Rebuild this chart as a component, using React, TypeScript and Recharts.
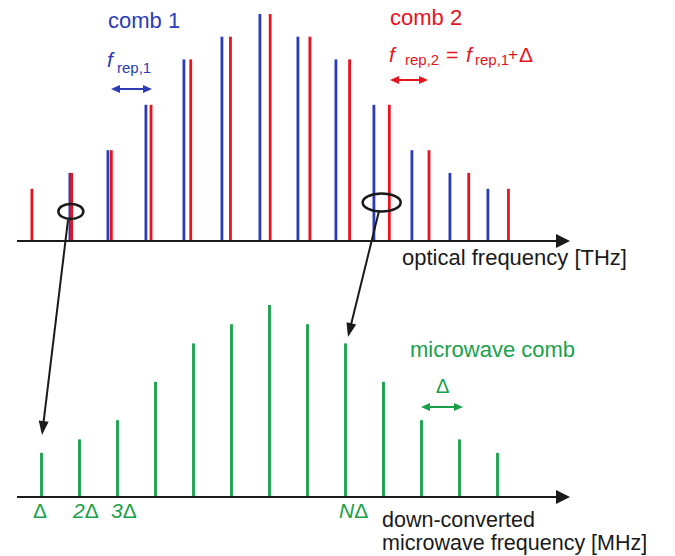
import { BarChart, Bar, Cell, XAxis, YAxis, ReferenceLine, ReferenceDot } from "recharts";

const BLUE = "#2b3cb6";
const RED = "#e6141f";
const GREEN = "#18a14a";
const INK = "#1a1a1a";
const FONT = '"Liberation Sans", Arial, sans-serif';

// comb 1: optical lines, frequency in units of f_rep,1
const comb1Freq = [1, 2, 3, 4, 5, 6, 7, 8, 9, 10, 11, 12];
const comb1Amp = [0.3, 0.4, 0.6, 0.8, 0.9, 1.0, 0.9, 0.8, 0.6, 0.4, 0.3, 0.23];

// comb 2: f_rep,2 = f_rep,1 + Δ
const comb2Freq = [0, 1.045, 2.09, 3.135, 4.18, 5.225, 6.27, 7.315, 8.36, 9.405, 10.45, 11.495, 12.54];
const comb2Amp = [0.23, 0.3, 0.4, 0.6, 0.8, 0.9, 1.0, 0.9, 0.8, 0.6, 0.4, 0.3, 0.23];

// down-converted microwave comb, frequency in units of Δ
const mwFreq = [1, 2, 3, 4, 5, 6, 7, 8, 9, 10, 11, 12, 13];
const mwAmp = [0.23, 0.3, 0.4, 0.6, 0.8, 0.9, 1.0, 0.9, 0.8, 0.6, 0.4, 0.3, 0.23];
const mwTicks = [1, 2, 3, 9];
const mwTickLabels = ["Δ", "2Δ", "3Δ", "NΔ"];

// line pairs circled in the optical panel (index into comb1 / comb2)
const circled = [
  { c1: 0, c2: 1, level: 0.13, rx: 12.5, ry: 7.5 },
  { c1: 8, c2: 9, level: 0.17, rx: 19, ry: 9 },
];

const opticalRows = [
  ...comb1Freq.map((f, i) => ({ f, amp: comb1Amp[i], comb: 1 })),
  ...comb2Freq.map((f, i) => ({ f, amp: comb2Amp[i], comb: 2 })),
].sort((a, b) => a.f - b.f);

const mwRows = mwFreq.map((m, i) => ({ m, amp: mwAmp[i] }));

// thin comb line, centred on the bar's slot
const CombLine = (props: any) => {
  const { x, y, width, height, fill } = props;
  if (!height) return null;
  return <rect x={x + width / 2 - 1.4} y={y} width={2.8} height={height} fill={fill} />;
};

const AxisArrow = (props: any) => {
  const { x1, y1, x2 } = props;
  return (
    <g>
      <line x1={x1} y1={y1} x2={x2 - 12} y2={y1} stroke={INK} strokeWidth={2} />
      <polygon points={`${x2},${y1} ${x2 - 14},${y1 - 7} ${x2 - 14},${y1 + 7}`} fill={INK} />
    </g>
  );
};

const Ellipse = (rx: number, ry: number) => (props: any) =>
  <ellipse cx={props.cx} cy={props.cy} rx={rx} ry={ry} fill="none" stroke={INK} strokeWidth={2.5} />;

const MwTick = (props: any) => {
  const { x, y, payload } = props;
  const label = mwTickLabels[mwTicks.indexOf(payload.value)] || "";
  const prefix = label.slice(0, -1);
  return (
    <text x={prefix ? x - 6 : x - 8} y={y + 21} fill={GREEN} fontSize={21} fontFamily={FONT}>
      {prefix && <tspan fontStyle="italic">{prefix}</tspan>}
      <tspan>Δ</tspan>
    </text>
  );
};

function Arrow({ x1, y1, x2, y2, color, head = 14, half = 5 }: any) {
  const dx = x2 - x1;
  const dy = y2 - y1;
  const len = Math.hypot(dx, dy);
  const ux = dx / len;
  const uy = dy / len;
  const bx = x2 - ux * head;
  const by = y2 - uy * head;
  return (
    <g>
      <line x1={x1} y1={y1} x2={bx + ux * 2} y2={by + uy * 2} stroke={color} strokeWidth={2} />
      <polygon
        points={`${x2},${y2} ${bx - uy * half},${by + ux * half} ${bx + uy * half},${by - ux * half}`}
        fill={color}
      />
    </g>
  );
}

function DoubleArrow({ x1, x2, y, color }: any) {
  return (
    <g>
      <line x1={x1 + 6} y1={y} x2={x2 - 6} y2={y} stroke={color} strokeWidth={2} />
      <polygon points={`${x1},${y} ${x1 + 9},${y - 4} ${x1 + 9},${y + 4}`} fill={color} />
      <polygon points={`${x2},${y} ${x2 - 9},${y - 4} ${x2 - 9},${y + 4}`} fill={color} />
    </g>
  );
}

export default function App() {
  return (
    <div style={{ position: "relative", width: 675, height: 556, background: "#fff", fontFamily: FONT }}>
      <style>{"body{margin:0}"}</style>

      <div style={{ position: "absolute", left: 0, top: 0 }}>
        <BarChart width={675} height={262} data={opticalRows} margin={{ top: 0, right: 105, bottom: 21, left: 17 }}>
          <XAxis type="number" dataKey="f" domain={[-0.3947, 14.158]} allowDataOverflow hide />
          <YAxis type="number" domain={[0, 1.0617]} allowDataOverflow hide />
          <Bar dataKey="amp" barSize={3} shape={CombLine} isAnimationActive={false}>
            {opticalRows.map((r, i) => (
              <Cell key={i} fill={r.comb === 1 ? BLUE : RED} />
            ))}
          </Bar>
          <ReferenceLine y={0} shape={AxisArrow} />
          {circled.map((c, i) => (
            <ReferenceDot
              key={i}
              x={(comb1Freq[c.c1] + comb2Freq[c.c2]) / 2}
              y={c.level}
              shape={Ellipse(c.rx, c.ry)}
            />
          ))}
        </BarChart>
      </div>

      <div style={{ position: "absolute", left: 0, top: 280 }}>
        <BarChart width={675} height={247} data={mwRows} margin={{ top: 0, right: 105, bottom: 0, left: 17 }}>
          <XAxis
            type="number"
            dataKey="m"
            domain={[0.3684, 14.921]}
            allowDataOverflow
            ticks={mwTicks}
            interval={0}
            axisLine={false}
            tickLine={false}
            tickSize={0}
            tickMargin={0}
            height={30}
            tick={MwTick}
          />
          <YAxis type="number" domain={[0, 1.1302]} allowDataOverflow hide />
          <Bar dataKey="amp" barSize={3} fill={GREEN} shape={CombLine} isAnimationActive={false} />
          <ReferenceLine y={0} shape={AxisArrow} />
        </BarChart>
      </div>

      <svg width={675} height={556} style={{ position: "absolute", left: 0, top: 0, pointerEvents: "none" }}>
        <g fontFamily={FONT}>
          <text x={108} y={28} fontSize={22} fill={BLUE}>comb 1</text>
          <text x={107} y={67} fontSize={21} fill={BLUE}>
            <tspan fontStyle="italic">f</tspan>
            <tspan x={117} y={73} fontSize={15}>rep,1</tspan>
          </text>
          <DoubleArrow x1={111} x2={152} y={89} color={BLUE} />

          <text x={390} y={25} fontSize={22} fill={RED}>comb 2</text>
          <text x={389} y={62} fontSize={21} fill={RED}>
            <tspan fontStyle="italic">f</tspan>
            <tspan x={405} y={65} fontSize={15}>rep,2</tspan>
            <tspan x={446} y={62} fontSize={21}>=</tspan>
            <tspan x={466} y={62} fontStyle="italic">f</tspan>
            <tspan x={475} y={65} fontSize={15}>rep,1</tspan>
            <tspan x={508} y={60} fontSize={17}>+</tspan>
            <tspan x={519} y={62} fontSize={21}>Δ</tspan>
          </text>
          <DoubleArrow x1={390} x2={428} y={80} color={RED} />

          <text x={402} y={265} fontSize={22} fill={INK}>optical frequency [THz]</text>

          <Arrow x1={68} y1={220} x2={42} y2={435} color={INK} />
          <Arrow x1={379} y1={211} x2={348} y2={337} color={INK} />

          <text x={410} y={357} fontSize={22} fill={GREEN}>microwave comb</text>
          <text x={436} y={393} fontSize={20} fill={GREEN}>Δ</text>
          <DoubleArrow x1={421} x2={463} y={407} color={GREEN} />

          <text x={382} y={527} fontSize={21.5} fill={INK}>down-converted</text>
          <text x={382} y={550} fontSize={21.5} fill={INK}>microwave frequency [MHz]</text>
        </g>
      </svg>
    </div>
  );
}
